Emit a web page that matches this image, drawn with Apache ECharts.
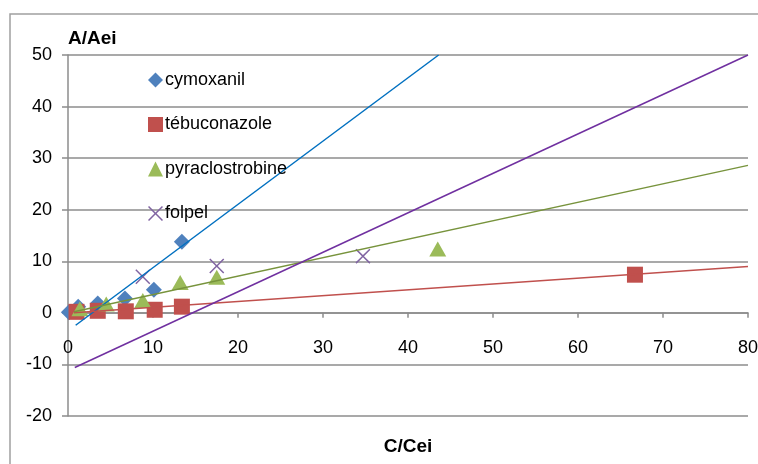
<!DOCTYPE html>
<html>
<head>
<meta charset="utf-8">
<script src="https://cdn.jsdelivr.net/npm/echarts@6/dist/echarts.min.js"></script>
<style>
html,body{margin:0;padding:0;background:#fff;}
#c{width:758px;height:464px;}
</style>
</head>
<body>
<div id="c"></div>
<script>
// Series names
const seriesNames = ['cymoxanil', 'tébuconazole', 'pyraclostrobine', 'folpel'];

// Measured points [C/Cei, A/Aei]
const cymoxanil = [[0.1, 0.1], [1.2, 1.2], [3.5, 1.8], [6.7, 2.8], [10.1, 4.5], [13.4, 13.8]];
const tebuconazole = [[1.0, 0.2], [3.5, 0.4], [6.8, 0.3], [10.2, 0.6], [13.4, 1.2], [66.7, 7.4]];
const pyraclostrobine = [[1.4, 0.8], [4.5, 1.7], [8.8, 2.4], [13.2, 5.9], [17.5, 6.9], [43.5, 12.4]];
const folpel = [[8.8, 7.0], [17.5, 9.1], [34.7, 11.0]];

// Trend line endpoints
const cymoxanilTrend = [[0.9, -2.4], [43.6, 50]];
const tebuconazoleTrend = [[0.7, 0.0], [80, 9.0]];
const pyraclostrobineTrend = [[0.7, 0.2], [80, 28.6]];
const folpelTrend = [[0.8, -10.6], [80, 50]];

// Axis ticks
const xTicks = {min: 0, max: 80, step: 10};
const yTicks = {min: -20, max: 50, step: 10};

const FONT = 'Liberation Sans';
const xPath = 'path://M0,0.7 L0.7,0 L5,4.3 L9.3,0 L10,0.7 L5.7,5 L10,9.3 L9.3,10 L5,5.7 L0.7,10 L0,9.3 L4.3,5 Z';

const chart = echarts.init(document.getElementById('c'));
chart.setOption({
  animation: false,
  backgroundColor: '#fff',
  textStyle: {fontFamily: FONT},
  graphic: [{
    type: 'rect',
    shape: {x: 10, y: 14, width: 900, height: 600},
    style: {fill: 'none', stroke: '#a0a0a0', lineWidth: 1.5},
    silent: true, z: -1
  }],
  grid: {left: 68, right: 10, top: 55, bottom: 48, containLabel: false, outerBoundsMode: 'none'},
  legend: {
    orient: 'vertical',
    left: 143, top: 66,
    itemWidth: 15, itemHeight: 15,
    itemGap: 26.5,
    textStyle: {fontFamily: FONT, fontSize: 18, color: '#000', padding: [0, 0, 0, -3]},
    data: [
      {name: seriesNames[0], icon: 'diamond'},
      {name: seriesNames[1], icon: 'rect'},
      {name: seriesNames[2], icon: 'triangle'},
      {name: seriesNames[3], icon: xPath}
    ]
  },
  xAxis: {
    type: 'value',
    min: xTicks.min, max: xTicks.max, interval: xTicks.step,
    name: 'C/Cei', nameLocation: 'middle', nameGap: 21,
    nameTextStyle: {fontFamily: FONT, fontSize: 19, fontWeight: 'bold', color: '#000'},
    axisLine: {onZero: true, lineStyle: {color: '#8c8c8c', width: 1.5}},
    axisTick: {show: true, length: 5, lineStyle: {color: '#8c8c8c', width: 1.5}},
    axisLabel: {margin: -77, fontFamily: FONT, fontSize: 18, color: '#000'},
    splitLine: {show: false}
  },
  yAxis: {
    type: 'value',
    min: yTicks.min, max: yTicks.max, interval: yTicks.step,
    name: 'A/Aei', nameLocation: 'end', nameGap: 7,
    nameTextStyle: {fontFamily: FONT, fontSize: 19, fontWeight: 'bold', color: '#000', align: 'left', verticalAlign: 'bottom'},
    axisLine: {show: true, onZero: false, lineStyle: {color: '#8c8c8c', width: 1.5}},
    axisTick: {show: true, length: 6, lineStyle: {color: '#8c8c8c', width: 1.5}},
    axisLabel: {margin: 16, fontFamily: FONT, fontSize: 18, color: '#000'},
    splitLine: {show: true, lineStyle: {color: '#8c8c8c', width: 1.5}}
  },
  series: [
    {name: seriesNames[0], type: 'scatter', symbol: 'diamond', symbolSize: 16, data: cymoxanil, itemStyle: {color: '#4F81BD', opacity: 1}},
    {name: seriesNames[1], type: 'scatter', symbol: 'rect', symbolSize: 16, data: tebuconazole, itemStyle: {color: '#C0504D', opacity: 1}},
    {name: seriesNames[2], type: 'scatter', symbol: 'triangle', symbolSize: [17, 15], data: pyraclostrobine, itemStyle: {color: '#9BBB59', opacity: 1}},
    {name: seriesNames[3], type: 'scatter', symbol: xPath, symbolSize: 15, data: folpel, itemStyle: {color: '#8064A2', opacity: 1}},
    {name: 'cymoxanil-trend', type: 'line', data: cymoxanilTrend, showSymbol: false, clip: true, lineStyle: {color: '#0070C0', width: 1.5}, itemStyle: {color: '#0070C0'}},
    {name: 'tebuconazole-trend', type: 'line', data: tebuconazoleTrend, showSymbol: false, clip: true, lineStyle: {color: '#C0504D', width: 1.5}, itemStyle: {color: '#C0504D'}},
    {name: 'pyraclostrobine-trend', type: 'line', data: pyraclostrobineTrend, showSymbol: false, clip: true, lineStyle: {color: '#77933C', width: 1.5}, itemStyle: {color: '#77933C'}},
    {name: 'folpel-trend', type: 'line', data: folpelTrend, showSymbol: false, clip: true, lineStyle: {color: '#7030A0', width: 1.5}, itemStyle: {color: '#7030A0'}}
  ]
});
</script>
</body>
</html>
